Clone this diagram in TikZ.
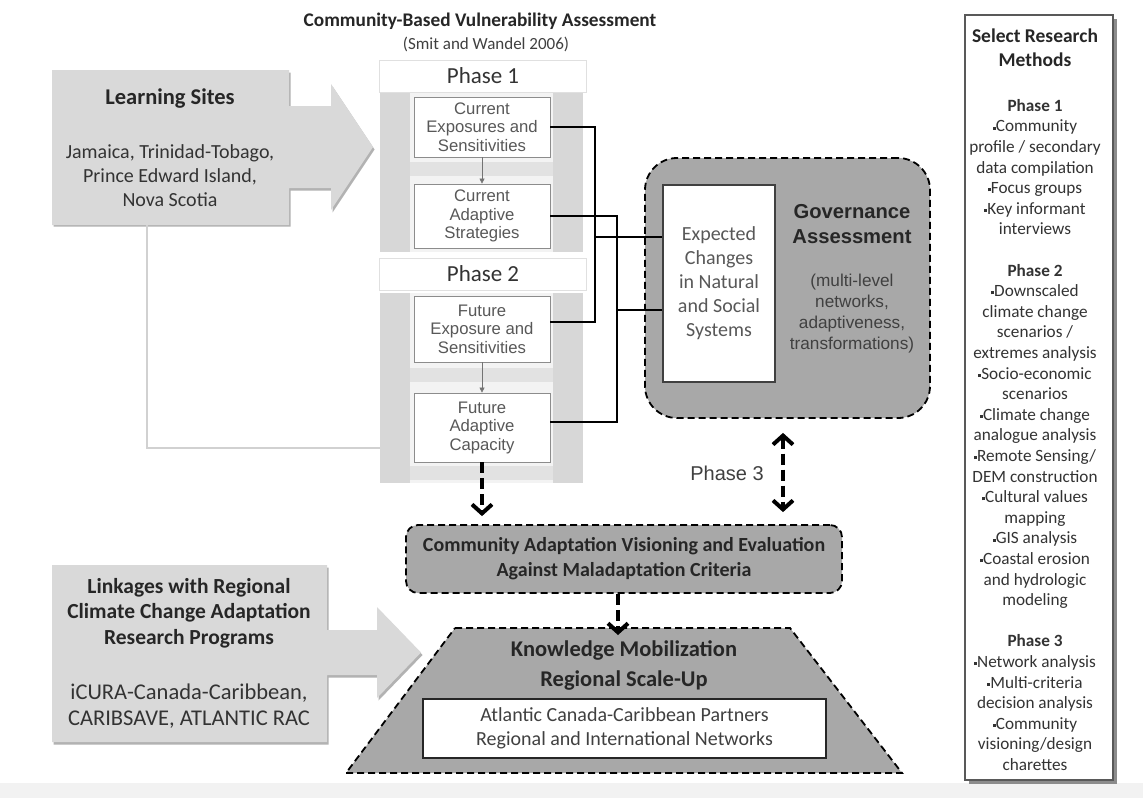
\documentclass[tikz,border=0pt]{standalone}
\usepackage{fontspec}
\setmainfont{Carlito}
\newfontfamily\helv{Liberation Sans}
\usetikzlibrary{arrows.meta,calc}
\definecolor{midgray}{HTML}{A8A8A8}
\definecolor{lsgray}{HTML}{D9D9D9}
\definecolor{txtgray}{HTML}{585858}
\definecolor{stripgray}{HTML}{D7D7D7}
\definecolor{innergray}{HTML}{F3F3F3}
\definecolor{bandgray}{HTML}{E2E2E2}
\newcommand{\fs}[2]{\fontsize{#1}{#2}\selectfont}
\newcommand{\bul}{\raisebox{0.3ex}{\rule{3pt}{3pt}}}
\tikzset{
  bigbarb/.tip={Straight Barb[length=9pt,width=20pt,line width=4pt]},
  phbox/.style={draw=black!45, line width=0.8pt, fill=white, minimum width=136pt, inner sep=0pt, align=center, text=txtgray, font=\helv\fs{16.7}{18.5}},
  conn/.style={draw=black, line width=2.2pt},
  bigarrow/.style={line width=4.5pt, dash pattern=on 11pt off 5pt, -bigbarb},
  dashbox/.style={draw=black, dash pattern=on 7pt off 4pt, line width=1.8pt, fill=midgray},
  smallarr/.style={draw=black!55, line width=0.6pt, -{Triangle[length=5pt,width=5pt]}},
  glink/.style={draw=black!18, line width=2.5pt},
  hdr/.style={fill=white, draw=black!12, line width=0.8pt, minimum width=207pt, minimum height=32pt, font=\fs{23}{24}, text=black!80},
}
\begin{document}
\begin{tikzpicture}[x=1pt,y=-1pt]
\useasboundingbox (0,0) rectangle (1143,798);
\fill[white] (0,0) rectangle (1143,798);
\fill[black!5] (0,783) rectangle (1143,798);

% title
\node[font=\bfseries\fs{19.3}{22}, text=black!85] (title) at (480,21) {Community-Based Vulnerability Assessment};
\node[font=\fs{17}{19}, text=black!75] (cite) at (486,44) {(Smit and Wandel 2006)};

% learning sites arrow-box
\fill[black!30] ($(52,70)+(1.5,2.5)$) -- ++(237,0) -- ++(0,36) -- ++(42,0) -- ++(0,-22) -- ++(42,63) -- ++(-42,63) -- ++(0,-22) -- ++(-42,0) -- ++(0,36) -- ++(-237,0) -- cycle;
\fill[lsgray] (52,70) -- (289,70) -- (289,106) -- (331,106) -- (331,84) -- (373,147) -- (331,210) -- (331,188) -- (289,188) -- (289,225) -- (52,225) -- cycle;
\node[minimum width=237pt, minimum height=155pt, inner sep=0pt] (ls) at (170.5,147.5) {};
\node[font=\bfseries\fs{22.5}{24}, text=black!85] (lst) at (170,99) {Learning Sites};
\node[font=\fs{20}{24}, align=center, text=black!80] (lsl) at (170,176) {Jamaica, Trinidad-Tobago,\\Prince Edward Island,\\Nova Scotia};
\coordinate (lsline) at (147,448);
\coordinate (colw) at (380,448);
\draw[glink] (ls.south -| lsline) -- (lsline) -- (colw);

% column
\fill[innergray] (380,92) rectangle (583,252);
\fill[stripgray] (380,92) rectangle (410,252);
\fill[stripgray] (553,92) rectangle (583,252);
\fill[bandgray] (410,162) rectangle (553,176);
\fill[innergray] (380,293) rectangle (583,483);
\fill[stripgray] (380,293) rectangle (410,483);
\fill[stripgray] (553,293) rectangle (583,483);
\fill[bandgray] (410,368) rectangle (553,382);
\fill[bandgray] (410,466) rectangle (553,480);
\node[hdr] (ph1) at (483,76) {Phase 1};
\node[hdr] (ph2) at (483,274) {Phase 2};

\node[phbox, minimum height=60pt] (ce) at (482,127) {Current\\Exposures and\\Sensitivities};
\node[phbox, minimum height=64pt] (ca) at (482,216) {Current\\Adaptive\\Strategies};
\node[phbox, minimum height=66pt] (fe) at (482,329) {Future\\Exposure and\\Sensitivities};
\node[phbox, minimum height=69pt] (fa) at (482,427.5) {Future\\Adaptive\\Capacity};
\draw[smallarr] (ce.south) -- (ca.north);
\draw[smallarr] (fe.south) -- (fa.north);

% governance
\node[dashbox, rounded corners=32pt, minimum width=285pt, minimum height=260pt] (gov) at (787.5,288) {};
\node[draw=black!75, line width=1.5pt, fill=white, minimum width=112pt, minimum height=197pt, align=center, font=\fs{20}{24}, text=txtgray] (ex) at (719,283.5) {Expected\\Changes\\in Natural\\and Social\\Systems};
\node[font=\helv\bfseries\fs{20.2}{25}, align=center, text=black!85] (govt) at (852,224) {Governance\\Assessment};
\node[font=\helv\fs{17.2}{21}, align=center, text=black!75] (govs) at (852,314) {(multi-level\\networks,\\adaptiveness,\\transformations)};

% connectors
\coordinate (v1) at (595,237);
\coordinate (v2) at (617,310);
\draw[conn] (ce.east) -| (v1) |- ([yshift=7pt]fe.east);
\draw[conn] (v1) -- (v1 -| ex.west);
\draw[conn] (ca.east) -| (v2) |- ([yshift=5.5pt]fa.east);
\draw[conn] (v2) -- (v2 -| ex.west);

% community adaptation
\node[dashbox, rounded corners=12pt, minimum width=436pt, minimum height=68pt, align=center, font=\bfseries\fs{20}{25}, text=black!85] (cav) at (624,559) {Community Adaptation Visioning and Evaluation\\Against Maladaptation Criteria};

\draw[bigarrow, shorten >=8pt] (fa.south) -- (fa.south |- cav.north);
\coordinate (p3) at (783,0);
\draw[bigarrow, bigbarb-bigbarb, shorten <=14pt, shorten >=12pt] (gov.south -| p3) -- (cav.north -| p3);
\node[font=\helv\fs{20}{22}, text=black!75] (ph3) at (727,473) {Phase 3};

% linkages
\fill[black!30] ($(52,565)+(1.5,2.5)$) -- ++(275,0) -- ++(0,65) -- ++(50,0) -- ++(0,-23) -- ++(44,45.5) -- ++(-44,45.5) -- ++(0,-23) -- ++(-50,0) -- ++(0,67) -- ++(-275,0) -- cycle;
\fill[lsgray] (52,565) -- (327,565) -- (327,630) -- (377,630) -- (377,607) -- (421,652.5) -- (377,698) -- (377,675) -- (327,675) -- (327,742) -- (52,742) -- cycle;
\node[font=\bfseries\fs{21.5}{25.5}, align=center, text=black!85] (lkt) at (189,613) {Linkages with Regional\\Climate Change Adaptation\\Research Programs};
\node[font=\fs{22.5}{26}, align=center, text=black!80] (lkl) at (189,706) {iCURA-Canada-Caribbean,\\CARIBSAVE, ATLANTIC RAC};

% knowledge mobilization trapezoid
\draw[dashbox] (455,628) -- (790,628) -- (902,773) -- (346,773) -- cycle;
\node[font=\bfseries\fs{22.5}{30}, align=center, text=black!85] (km) at (624,665) {Knowledge Mobilization\\Regional Scale-Up};
\node[draw=black!85, line width=2pt, fill=white, minimum width=403pt, minimum height=59pt, align=center, font=\fs{20}{24}, text=black!75] (atl) at (624.5,728.5) {Atlantic Canada-Caribbean Partners\\Regional and International Networks};
\coordinate (kt) at (618,635);
\draw[bigarrow] (cav.south -| kt) -- (kt);

% research methods
\fill[black!45] (969,19) rectangle (1117,784);
\node[draw=black!65, line width=2.5pt, fill=white, minimum width=148pt, minimum height=765pt, inner sep=0pt] (rm) at (1039,397.5) {};
\node[font=\bfseries\fs{19.5}{24}, align=center, text=black!85] (rmt) at (1035,48) {Select Research\\Methods};
\node[font=\fs{17.2}{20.6}, align=center, text=black!80] (rml) at (1035,435) {%
\textbf{Phase 1}\\
\bul Community\\
profile / secondary\\
data compilation\\
\bul Focus groups\\
\bul Key informant\\
interviews\\[20.6pt]
\textbf{Phase 2}\\
\bul Downscaled\\
climate change\\
scenarios /\\
extremes analysis\\
\bul Socio-economic\\
scenarios\\
\bul Climate change\\
analogue analysis\\
\bul Remote Sensing/\\
DEM construction\\
\bul Cultural values\\
mapping\\
\bul GIS analysis\\
\bul Coastal erosion\\
and hydrologic\\
modeling\\[20.6pt]
\textbf{Phase 3}\\
\bul Network analysis\\
\bul Multi-criteria\\
decision analysis\\
\bul Community\\
visioning/design\\
charettes};
\end{tikzpicture}
\end{document}
